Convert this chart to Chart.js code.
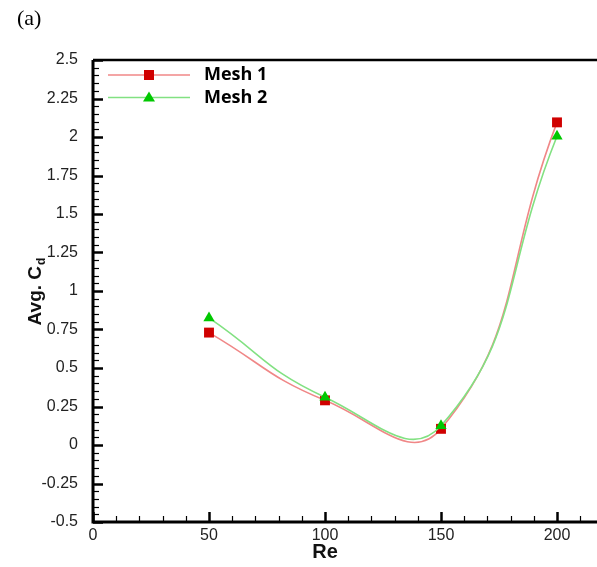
<!DOCTYPE html>
<html>
<head>
<meta charset="utf-8">
<script src="https://cdn.jsdelivr.net/npm/chart.js@4.4.1/dist/chart.umd.min.js"></script>
<style>
html,body{margin:0;padding:0;overflow:hidden;background:#fff;width:597px;height:567px;}
canvas{display:block;}
</style>
</head>
<body>
<canvas id="c" width="680" height="567" style="width:680px;height:567px"></canvas>
<script>
const reynolds = [50, 100, 150, 200];
const mesh1 = [0.73, 0.29, 0.105, 2.095];
const mesh2 = [0.825, 0.31, 0.125, 2.005];
const seriesNames = ['Mesh 1', 'Mesh 2'];
const yTicks = [-0.5, -0.25, 0, 0.25, 0.5, 0.75, 1, 1.25, 1.5, 1.75, 2, 2.25, 2.5];
const xTicks = [0, 50, 100, 150, 200];

const RED_LINE = 'rgb(240,135,135)', RED_PT = '#d00000';
const GREEN_LINE = 'rgb(130,225,130)', GREEN_PT = '#00c800';

const decor = {
  id: 'decor',
  afterDraw(chart) {
    const ctx = chart.ctx, a = chart.chartArea;
    const xs = chart.scales.x, ys = chart.scales.y;
    ctx.save();
    ctx.strokeStyle = '#000';
    ctx.lineWidth = 3;
    ctx.beginPath();
    ctx.moveTo(a.left, a.top); ctx.lineTo(a.left, a.bottom); ctx.lineTo(a.right, a.bottom);
    ctx.stroke();
    ctx.lineWidth = 2.5;
    ctx.beginPath(); ctx.moveTo(a.left, a.top); ctx.lineTo(a.right, a.top); ctx.stroke();
    for (let v = -0.5; v <= 2.5001; v += 0.05) {
      const r = Math.round(v * 100) / 100;
      const major = Math.abs(r / 0.25 - Math.round(r / 0.25)) < 1e-6;
      const p = Math.round(ys.getPixelForValue(r)) + 0.5;
      ctx.lineWidth = major ? 2.5 : 1.2;
      ctx.beginPath(); ctx.moveTo(a.left, p); ctx.lineTo(a.left + (major ? 10 : 6), p); ctx.stroke();
    }
    for (let v = 0; v <= 250; v += 10) {
      const major = v % 50 === 0;
      const p = Math.round(xs.getPixelForValue(v)) + 0.5;
      ctx.lineWidth = major ? 2.5 : 1.2;
      ctx.beginPath(); ctx.moveTo(p, a.bottom); ctx.lineTo(p, a.bottom - (major ? 10 : 6)); ctx.stroke();
    }
    ctx.fillStyle = '#111';
    ctx.font = 'bold 20px "Liberation Sans", Arial, sans-serif';
    ctx.textAlign = 'center'; ctx.textBaseline = 'middle';
    ctx.fillText('Re', xs.getPixelForValue(100), 552);
    ctx.save();
    ctx.translate(36, 292);
    ctx.rotate(-Math.PI / 2);
    ctx.textAlign = 'left';
    const t1 = 'Avg. C';
    ctx.font = 'bold 19px "Liberation Sans", Arial, sans-serif';
    const w1 = ctx.measureText(t1).width;
    ctx.font = 'bold 12px "Liberation Sans", Arial, sans-serif';
    const w2 = ctx.measureText('d').width;
    const start = -(w1 + w2) / 2;
    ctx.font = 'bold 19px "Liberation Sans", Arial, sans-serif';
    ctx.fillText(t1, start, 0);
    ctx.font = 'bold 12px "Liberation Sans", Arial, sans-serif';
    ctx.fillText('d', start + w1 + 1, 6);
    ctx.restore();
    const items = [
      {name: seriesNames[0], line: RED_LINE, pt: RED_PT, style: 'rect', y: 75},
      {name: seriesNames[1], line: GREEN_LINE, pt: GREEN_PT, style: 'triangle', y: 97.5}
    ];
    items.forEach(it => {
      ctx.strokeStyle = it.line; ctx.lineWidth = 1.5;
      ctx.beginPath(); ctx.moveTo(108, it.y); ctx.lineTo(190, it.y); ctx.stroke();
      ctx.fillStyle = it.pt;
      if (it.style === 'rect') {
        ctx.fillRect(144, it.y - 5, 10, 10);
      } else {
        ctx.beginPath(); ctx.moveTo(149, it.y - 6); ctx.lineTo(155, it.y + 4); ctx.lineTo(143, it.y + 4); ctx.closePath(); ctx.fill();
      }
      ctx.fillStyle = '#000';
      ctx.font = 'bold 18px "Open Sans", "Liberation Sans", sans-serif';
      ctx.textAlign = 'left'; ctx.textBaseline = 'middle';
      ctx.fillText(it.name, 204, it.y);
    });
    ctx.font = '22px "Liberation Serif", "Times New Roman", serif';
    ctx.fillStyle = '#000';
    ctx.textAlign = 'left'; ctx.textBaseline = 'middle';
    ctx.fillText('(a)', 17, 19);
    ctx.restore();
  }
};

new Chart(document.getElementById('c'), {
  type: 'line',
  data: {
    datasets: [
      {
        label: seriesNames[0],
        data: reynolds.map((x, i) => ({x, y: mesh1[i]})),
        borderColor: RED_LINE, borderWidth: 1.6,
        pointStyle: 'rect', pointRadius: 7, pointBackgroundColor: RED_PT, pointBorderColor: RED_PT, pointBorderWidth: 0,
        tension: 0.48, order: 1
      },
      {
        label: seriesNames[1],
        data: reynolds.map((x, i) => ({x, y: mesh2[i]})),
        borderColor: GREEN_LINE, borderWidth: 1.6,
        pointStyle: 'triangle', pointRadius: 6.5, pointBackgroundColor: GREEN_PT, pointBorderColor: GREEN_PT, pointBorderWidth: 0,
        tension: 0.48, order: 0
      }
    ]
  },
  options: {
    responsive: false,
    animation: false,
    layout: {padding: {top: 60, left: 0, right: 7, bottom: 0}},
    plugins: {legend: {display: false}, tooltip: {enabled: false}},
    scales: {
      x: {
        type: 'linear', min: 0, max: 250,
        afterBuildTicks: s => { s.ticks = xTicks.map(v => ({value: v})); },
        afterFit: s => { s.height = 45; },
        grid: {display: false, drawTicks: false},
        border: {display: false},
        ticks: {padding: 4, color: '#222', font: {family: '"Liberation Sans", Arial, sans-serif', size: 16}, maxRotation: 0}
      },
      y: {
        type: 'linear', min: -0.5, max: 2.5,
        afterBuildTicks: s => { s.ticks = yTicks.map(v => ({value: v})); },
        afterFit: s => { s.width = 93; },
        grid: {display: false, drawTicks: false},
        border: {display: false},
        ticks: {padding: 15, color: '#222', font: {family: '"Liberation Sans", Arial, sans-serif', size: 16},
          callback: v => String(+Number(v).toFixed(2))}
      }
    }
  },
  plugins: [decor]
});
</script>
</body>
</html>
